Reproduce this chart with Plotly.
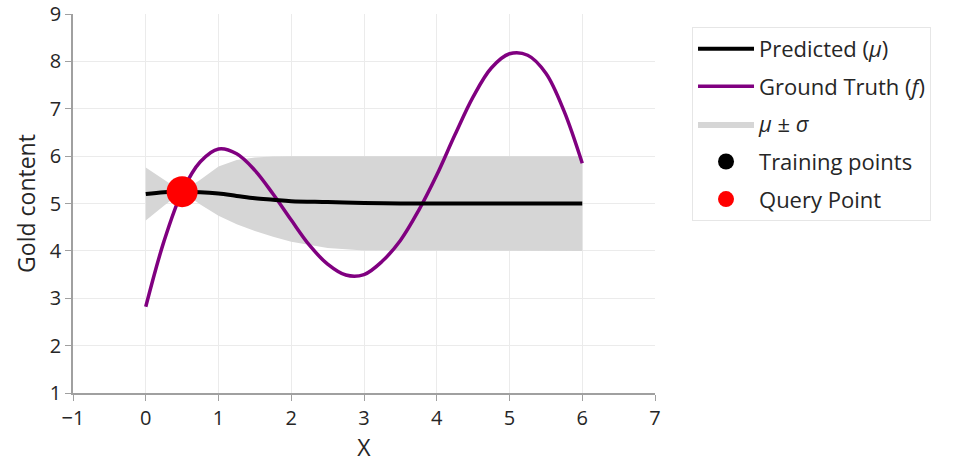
import plotly.graph_objects as go

# Ground truth
x_truth = [0.0, 0.25, 0.5, 0.75, 1.0, 1.25, 1.5, 1.75, 2.0, 2.25, 2.5, 2.75, 3.0, 3.25, 3.5, 3.75,
           4.0, 4.25, 4.5, 4.75, 5.0, 5.25, 5.5, 5.75, 6.0]
y_truth = [2.82, 4.2, 5.25, 5.88, 6.15, 6.05, 5.7, 5.2, 4.65, 4.12, 3.72, 3.49, 3.5, 3.78, 4.22, 4.85,
           5.6, 6.45, 7.25, 7.86, 8.16, 8.13, 7.75, 6.95, 5.85]

# Predicted mean and band (mu - sigma, mu + sigma)
x_pred = [0.0, 0.25, 0.5, 0.75, 1.0, 1.25, 1.5, 1.75, 2.0, 2.5, 3.0, 3.5, 4.0, 4.5, 5.0, 5.5, 6.0]
mu = [5.2, 5.24, 5.25, 5.24, 5.21, 5.16, 5.11, 5.08, 5.05, 5.03, 5.01, 5.0, 5.0, 5.0, 5.0, 5.0, 5.0]
upper = [5.76, 5.5, 5.25, 5.5, 5.78, 5.92, 5.97, 5.99, 6.0, 6.0, 6.0, 6.0, 6.0, 6.0, 6.0, 6.0, 6.0]
lower = [4.64, 4.95, 5.25, 4.98, 4.74, 4.56, 4.42, 4.3, 4.19, 4.06, 4.01, 4.0, 4.0, 4.0, 4.0, 4.0, 4.0]

x_train = [0.5]
y_train = [5.25]
x_query = [0.5]
y_query = [5.25]

x_ticks = [-1, 0, 1, 2, 3, 4, 5, 6, 7]
x_ticklabels = ["−1", "0", "1", "2", "3", "4", "5", "6", "7"]
y_ticks = [1, 2, 3, 4, 5, 6, 7, 8, 9]

font = "Open Sans"
txt = "#262626"
fig = go.Figure()
fig.add_trace(go.Scatter(x=x_pred + x_pred[::-1], y=upper + lower[::-1], fill="toself",
                         fillcolor="#d6d6d6", line=dict(width=0), mode="lines",
                         name="<i>μ</i> ± <i>σ</i>", legendrank=3, legendgroup="c"))
fig.add_trace(go.Scatter(x=x_truth, y=y_truth, mode="lines",
                         line=dict(color="#800080", width=3.5, shape="spline", smoothing=1.0),
                         name="Ground Truth (<i>f</i>)", legendrank=2, legendgroup="b"))
fig.add_trace(go.Scatter(x=x_pred, y=mu, mode="lines",
                         line=dict(color="black", width=4, shape="spline"),
                         name="Predicted (<i>μ</i>)", legendrank=1, legendgroup="a"))
fig.add_trace(go.Scatter(x=x_train, y=y_train, mode="markers", marker=dict(color="black", size=26),
                         name="Training points", legendrank=4, legendgroup="d"))
fig.add_trace(go.Scatter(x=x_query, y=y_query, mode="markers", marker=dict(color="#ff0000", size=31),
                         name="Query Point", legendrank=5, legendgroup="e"))

axis_common = dict(showgrid=True, gridcolor="#ebebeb", gridwidth=1, zeroline=False,
                   showline=True, linecolor="#a0a0a0", linewidth=1.5,
                   ticks="outside", tickcolor="#a0a0a0", ticklen=6, automargin=False,
                   tickfont=dict(size=20, color=txt, family=font))
fig.update_layout(
    width=956, height=465,
    margin=dict(l=73, r=301, t=14, b=72),
    plot_bgcolor="white", paper_bgcolor="white",
    xaxis=dict(range=[-1, 7], title=dict(text="X", font=dict(size=23, color=txt, family=font), standoff=4),
               tickvals=x_ticks, ticktext=x_ticklabels, **axis_common),
    yaxis=dict(range=[1, 9], title=dict(text="Gold content", font=dict(size=23, color=txt, family=font), standoff=8),
               tickvals=y_ticks, **axis_common),
    legend=dict(x=1.0636, y=0.966, xanchor="left", yanchor="top",
                font=dict(size=22, color=txt, family=font),
                bordercolor="#e6e6e6", borderwidth=1, tracegroupgap=6,
                itemwidth=56, itemsizing="trace"),
    showlegend=True,
)
fig.write_html("out.html", config={"displayModeBar": False},
               post_script="document.body.style.margin='0px';")
